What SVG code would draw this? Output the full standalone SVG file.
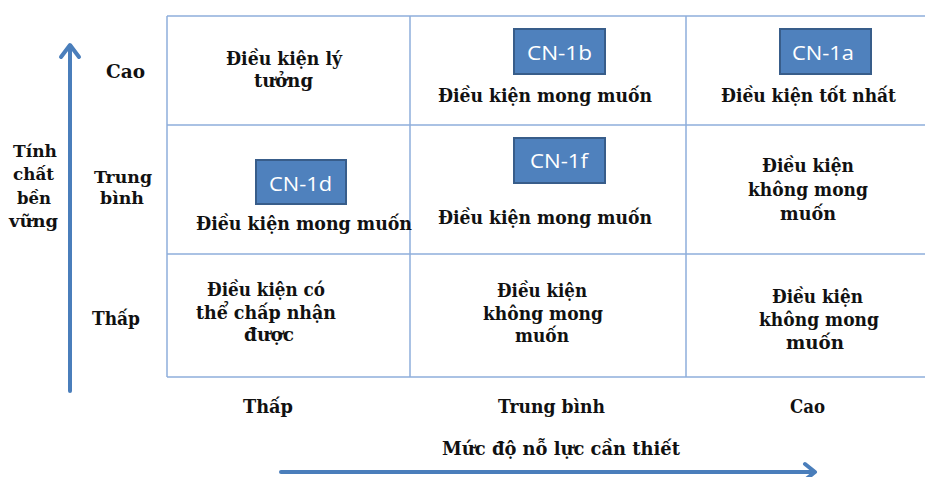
<svg xmlns="http://www.w3.org/2000/svg" width="925" height="477" viewBox="0 0 925 477">
  <style>
    .grid { stroke: #8EAEDB; stroke-width: 1.5; fill: none; }
    .axis { stroke: #4A7EBB; stroke-width: 4; fill: none; stroke-linecap: round; }
    .head { stroke: #4A7EBB; stroke-width: 4; fill: none; stroke-linecap: round; stroke-linejoin: round; }
    .t { font-family: 'DejaVu Serif', serif; font-weight: bold; font-size: 19px; fill: #111; }
    .s { font-family: 'DejaVu Serif', serif; font-weight: bold; font-size: 18.5px; fill: #111; }
    .r { font-family: 'DejaVu Serif', serif; font-weight: bold; font-size: 17.5px; fill: #111; }
    .box { fill: #4F81BD; stroke: #385D8A; stroke-width: 2; }
    .bt { font-family: 'Open Sans', 'Liberation Sans', sans-serif; font-size: 20px; fill: #fff; }
  </style>

  <!-- matrix grid -->
  <g id="grid">
    <line class="grid" x1="167" y1="16" x2="925" y2="16"/>
    <line class="grid" x1="167" y1="125" x2="925" y2="125"/>
    <line class="grid" x1="167" y1="254" x2="925" y2="254"/>
    <line class="grid" x1="167" y1="377" x2="925" y2="377"/>
    <line class="grid" x1="167" y1="16" x2="167" y2="377"/>
    <line class="grid" x1="410" y1="16" x2="410" y2="377"/>
    <line class="grid" x1="686" y1="16" x2="686" y2="377"/>
  </g>

  <!-- axes -->
  <g id="connectors">
    <line class="axis" x1="70" y1="391" x2="70" y2="46"/>
    <polyline class="head" points="61,57 70,45 79,57"/>
    <line class="axis" x1="281" y1="472" x2="813" y2="472"/>
    <polyline class="head" points="805,464 815,472 805,480"/>
  </g>

  <!-- axis labels -->
  <g id="y-axis-label">
    <text class="r" x="13" y="157" textLength="44" lengthAdjust="spacingAndGlyphs">Tính</text>
    <text class="r" x="13" y="180" textLength="41" lengthAdjust="spacingAndGlyphs">chất</text>
    <text class="r" x="17" y="204" textLength="34" lengthAdjust="spacingAndGlyphs">bền</text>
    <text class="r" x="9" y="227" textLength="49" lengthAdjust="spacingAndGlyphs">vững</text>
  </g>
  <g id="row-cao"><text class="t" x="106" y="78" textLength="39" lengthAdjust="spacingAndGlyphs">Cao</text></g>
  <g id="row-trung-binh">
    <text class="r" x="94" y="183" textLength="58" lengthAdjust="spacingAndGlyphs">Trung</text>
    <text class="r" x="100" y="204" textLength="44" lengthAdjust="spacingAndGlyphs">bình</text>
  </g>
  <g id="row-thap"><text class="s" x="92" y="325" textLength="48" lengthAdjust="spacingAndGlyphs">Thấp</text></g>

  <g id="col-thap"><text class="s" x="243" y="413" textLength="50" lengthAdjust="spacingAndGlyphs">Thấp</text></g>
  <g id="col-trung-binh"><text class="s" x="498" y="413" textLength="107" lengthAdjust="spacingAndGlyphs">Trung bình</text></g>
  <g id="col-cao"><text class="s" x="790" y="413" textLength="35" lengthAdjust="spacingAndGlyphs">Cao</text></g>
  <g id="x-axis-label"><text class="s" x="442" y="455" textLength="238" lengthAdjust="spacingAndGlyphs">Mức độ nỗ lực cần thiết</text></g>

  <!-- row 1 -->
  <g id="cell-ly-tuong">
    <text class="t" x="226" y="65" textLength="116" lengthAdjust="spacingAndGlyphs">Điều kiện lý</text>
    <text class="t" x="254" y="87" textLength="59" lengthAdjust="spacingAndGlyphs">tưởng</text>
  </g>
  <g id="cell-1b">
    <rect class="box" x="514" y="29" width="91" height="45"/>
    <text class="bt" x="527" y="60" textLength="65" lengthAdjust="spacingAndGlyphs">CN-1b</text>
    <text class="t" x="438" y="102" textLength="214" lengthAdjust="spacingAndGlyphs">Điều kiện mong muốn</text>
  </g>
  <g id="cell-1a">
    <rect class="box" x="780" y="29" width="91" height="45"/>
    <text class="bt" x="792" y="60" textLength="62" lengthAdjust="spacingAndGlyphs">CN-1a</text>
    <text class="t" x="721" y="102" textLength="175" lengthAdjust="spacingAndGlyphs">Điều kiện tốt nhất</text>
  </g>

  <!-- row 2 -->
  <g id="cell-1d">
    <rect class="box" x="256" y="160" width="90" height="44"/>
    <text class="bt" x="269" y="191" textLength="63" lengthAdjust="spacingAndGlyphs">CN-1d</text>
    <text class="t" x="196" y="230" textLength="216" lengthAdjust="spacingAndGlyphs">Điều kiện mong muốn</text>
  </g>
  <g id="cell-1f">
    <rect class="box" x="514" y="138" width="91" height="45"/>
    <text class="bt" x="530" y="168" textLength="58" lengthAdjust="spacingAndGlyphs">CN-1f</text>
    <text class="t" x="438" y="224" textLength="214" lengthAdjust="spacingAndGlyphs">Điều kiện mong muốn</text>
  </g>
  <g id="cell-khong-mong-muon-2">
    <text class="t" x="762" y="172" textLength="92" lengthAdjust="spacingAndGlyphs">Điều kiện</text>
    <text class="t" x="748" y="196" textLength="120" lengthAdjust="spacingAndGlyphs">không mong</text>
    <text class="t" x="780" y="220" textLength="56" lengthAdjust="spacingAndGlyphs">muốn</text>
  </g>

  <!-- row 3 -->
  <g id="cell-chap-nhan">
    <text class="s" x="207" y="296" textLength="118" lengthAdjust="spacingAndGlyphs">Điều kiện có</text>
    <text class="s" x="196" y="319" textLength="140" lengthAdjust="spacingAndGlyphs">thể chấp nhận</text>
    <text class="s" x="244" y="341" textLength="50" lengthAdjust="spacingAndGlyphs">được</text>
  </g>
  <g id="cell-khong-mong-muon-3a">
    <text class="s" x="497" y="297" textLength="90" lengthAdjust="spacingAndGlyphs">Điều kiện</text>
    <text class="s" x="483" y="320" textLength="120" lengthAdjust="spacingAndGlyphs">không mong</text>
    <text class="s" x="515" y="342" textLength="54" lengthAdjust="spacingAndGlyphs">muốn</text>
  </g>
  <g id="cell-khong-mong-muon-3b">
    <text class="s" x="772" y="303" textLength="91" lengthAdjust="spacingAndGlyphs">Điều kiện</text>
    <text class="s" x="759" y="326" textLength="120" lengthAdjust="spacingAndGlyphs">không mong</text>
    <text class="s" x="786" y="349" textLength="58" lengthAdjust="spacingAndGlyphs">muốn</text>
  </g>
</svg>
